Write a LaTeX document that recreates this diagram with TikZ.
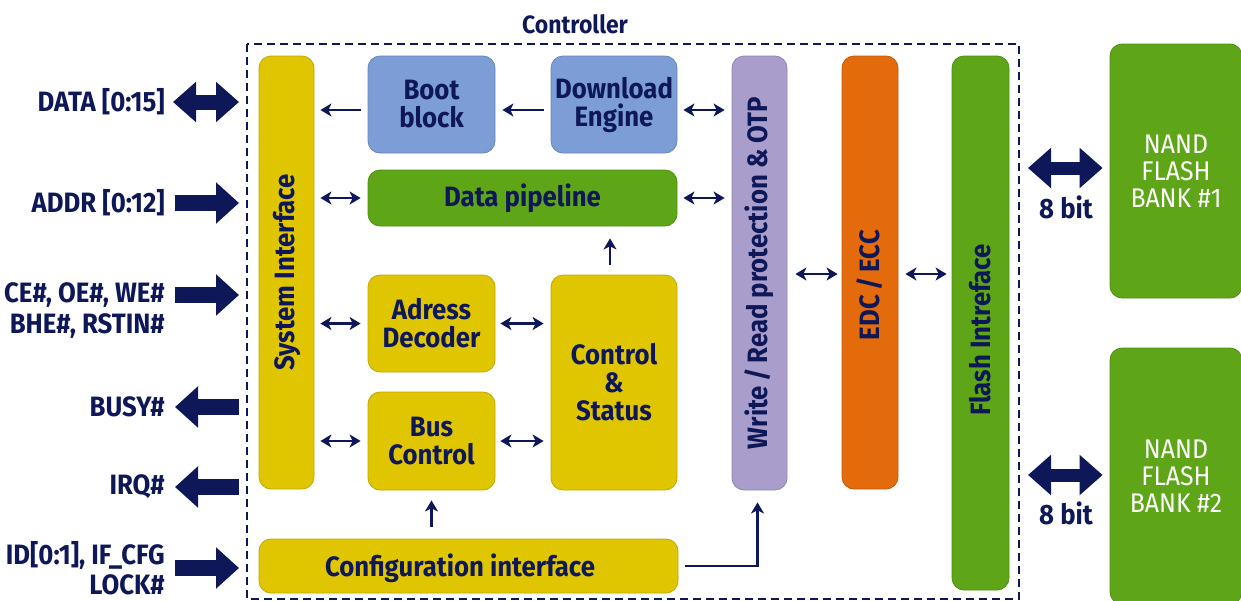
\documentclass[tikz,border=0pt]{standalone}
\usepackage{fontspec}
\setmainfont{Fira Sans}[FakeStretch=0.92]
\usetikzlibrary{arrows.meta}
\definecolor{navy}{HTML}{0E1858}
\definecolor{cyel}{HTML}{E0C600}
\definecolor{cblue}{HTML}{7C9DD6}
\definecolor{cgreen}{HTML}{5EA617}
\definecolor{clav}{HTML}{A99ECB}
\definecolor{corange}{HTML}{E36B0C}
\begin{document}
\begin{tikzpicture}[x=1pt,y=-1pt,
  font=\fontsize{28}{28}\selectfont\bfseries,
  blk/.style={rounded corners=12pt, inner sep=0pt, text=navy, align=center},
  yel/.style={blk, fill=cyel, draw=cyel!85!black, line width=0.8pt},
  blu/.style={blk, fill=cblue, draw=cblue!85!black, line width=0.8pt},
  grn/.style={blk, fill=cgreen, draw=cgreen!85!black, line width=0.8pt},
  lav/.style={blk, fill=clav, draw=clav!85!black, line width=0.8pt},
  org/.style={blk, fill=corange, draw=corange!85!black, line width=0.8pt},
  vtxt/.style={rotate=90, text=navy, inner sep=0pt},
  lbl/.style={text=navy, anchor=east, align=right, inner sep=0pt},
  sm/.style={navy, line width=2.6pt, -{Stealth[length=11pt,width=13pt,inset=3pt]}},
  smd/.style={navy, line width=2.6pt, {Stealth[length=11pt,width=13pt,inset=3pt]}-{Stealth[length=11pt,width=13pt,inset=3pt]}},
  big/.style={navy, line width=16pt, -{Triangle[length=23pt,width=40pt]}},
  bigd/.style={navy, line width=15pt, {Triangle[length=23pt,width=39pt]}-{Triangle[length=23pt,width=39pt]}},
  nand/.style={grn, text=white, font=\fontsize{27}{27}\selectfont},
]
\useasboundingbox (0,0) rectangle (1241,600);

% controller frame
\draw[navy, line width=1.5pt, dash pattern=on 8pt off 5pt] (247,44) rectangle (1019,599);
\node[text=navy, font=\fontsize{25}{25}\selectfont\bfseries] (ctl) at (575,24) {Controller};

% blocks
\node[yel, minimum width=55pt, minimum height=433pt] (si) at (286.5,272.5) {};
\node[vtxt] at (si.center) {System Interface};
\node[blu, minimum width=127pt, minimum height=97pt] (boot) at (431.5,104.5) {Boot\\block};
\node[blu, minimum width=126pt, minimum height=97pt] (dl) at (614,104.5) {Download\\Engine};
\node[grn, minimum width=309pt, minimum height=56pt] (dp) at (522.5,198) {Data pipeline};
\node[yel, minimum width=127pt, minimum height=97pt] (ad) at (431.5,323.5) {Adress\\Decoder};
\node[yel, minimum width=127pt, minimum height=98pt] (bc) at (431.5,441) {Bus\\Control};
\node[yel, minimum width=126pt, minimum height=215pt] (cs) at (614,382.5) {Control\\\&\\Status};
\node[yel, minimum width=419pt, minimum height=54pt] (cfg) at (468.5,566) {};
\node[text=navy, inner sep=0pt] at (460,568) {Configuration interface};
\node[lav, minimum width=55pt, minimum height=434pt] (wr) at (759.5,273) {};
\node[vtxt] at (wr.center) {Write\,/\,Read protection \& OTP};
\node[org, minimum width=56pt, minimum height=433pt] (edc) at (870,272.5) {};
\node[vtxt] at (870,285) {EDC\,/\,ECC};
\node[grn, minimum width=57pt, minimum height=534pt] (fi) at (980.5,323) {};
\node[vtxt] at (980.5,330) {Flash Intreface};

\node[nand, minimum width=132pt, minimum height=254pt] (n1) at (1176,171) {NAND\\FLASH\\BANK \#1};
\node[nand, minimum width=132pt, minimum height=256pt] (n2) at (1176,476) {NAND\\FLASH\\BANK \#2};

% left labels
\node[lbl] (lData) at (165,102) {DATA [0:15]};
\node[lbl] (lAddr) at (165,203) {ADDR [0:12]};
\node[lbl, font=\fontsize{28}{31}\selectfont\bfseries] (lCe) at (165,311) {CE\#, OE\#, WE\#\\BHE\#, RSTIN\#};
\node[lbl] (lBusy) at (165,407) {BUSY\#};
\node[lbl] (lIrq) at (165,487) {IRQ\#};
\node[lbl, font=\fontsize{28}{30}\selectfont\bfseries] (lId) at (165,568) {ID[0:1], IF\_CFG\\LOCK\#};

% big arrow endpoints
\coordinate (aData) at (239,102);
\coordinate (aAddr) at (239,203);
\coordinate (aCe) at (239,295);
\coordinate (aBusy) at (239,407);
\coordinate (aIrq) at (239,487);
\coordinate (aId) at (239,568);
\draw[bigd] ([xshift=8pt]lData.east) -- (aData);
\draw[big] ([xshift=10pt]lAddr.east) -- (aAddr);
\draw[big] ([xshift=10pt]lCe.east|-aCe) -- (aCe);
\draw[big] (aBusy) -- ([xshift=10pt]lBusy.east);
\draw[big] (aIrq) -- ([xshift=10pt]lIrq.east);
\draw[big] ([xshift=10pt]lId.east|-aId) -- (aId);

\coordinate (b1) at (1028,168);
\coordinate (b2) at (1028,475);
\draw[bigd, line width=13pt, shorten >=7pt] (b1) -- (n1.west|-b1);
\draw[bigd, line width=13pt, shorten >=7pt] (b2) -- (n2.west|-b2);
\node[text=navy, inner sep=0pt] (bit1) at (1066,207) {8 bit};
\node[text=navy, inner sep=0pt] (bit2) at (1066,513) {8 bit};

% helper rows
\coordinate (r1) at (0,110);
\coordinate (r2) at (0,274);

% small arrows
\draw[sm, shorten <=7pt, shorten >=6pt] (boot.west|-r1) -- (si.east|-r1);
\draw[sm, shorten <=7pt, shorten >=7pt] (dl.west|-r1) -- (boot.east|-r1);
\draw[smd, shorten <=6pt, shorten >=7pt] (dl.east|-r1) -- (wr.west|-r1);
\draw[smd, shorten <=6pt, shorten >=7pt] (si.east|-dp.west) -- (dp.west);
\draw[smd, shorten <=6pt, shorten >=7pt] (dp.east) -- (wr.west|-dp.east);
\draw[smd, shorten <=6pt, shorten >=7pt] (si.east|-ad.west) -- (ad.west);
\draw[smd, shorten <=6pt, shorten >=7pt] (si.east|-bc.west) -- (bc.west);
\draw[smd, shorten <=5pt, shorten >=7pt] (ad.east) -- (cs.west|-ad.east);
\draw[smd, shorten <=5pt, shorten >=7pt] (bc.east) -- (cs.west|-bc.east);
\draw[sm, shorten <=10pt, shorten >=12pt] ([xshift=-4pt]cs.north) -- ([xshift=-4pt]cs.north|-dp.south);
\draw[sm, shorten <=12pt, shorten >=10pt] (bc.south|-cfg.north) -- (bc.south);
\draw[sm, shorten <=7pt, shorten >=12pt] (cfg.east) -| ([xshift=-2pt]wr.south);
\draw[smd, shorten <=8pt, shorten >=4pt] (wr.east|-r2) -- (edc.west|-r2);
\draw[smd, shorten <=7pt, shorten >=5pt] (edc.east|-r2) -- (fi.west|-r2);
\end{tikzpicture}
\end{document}
